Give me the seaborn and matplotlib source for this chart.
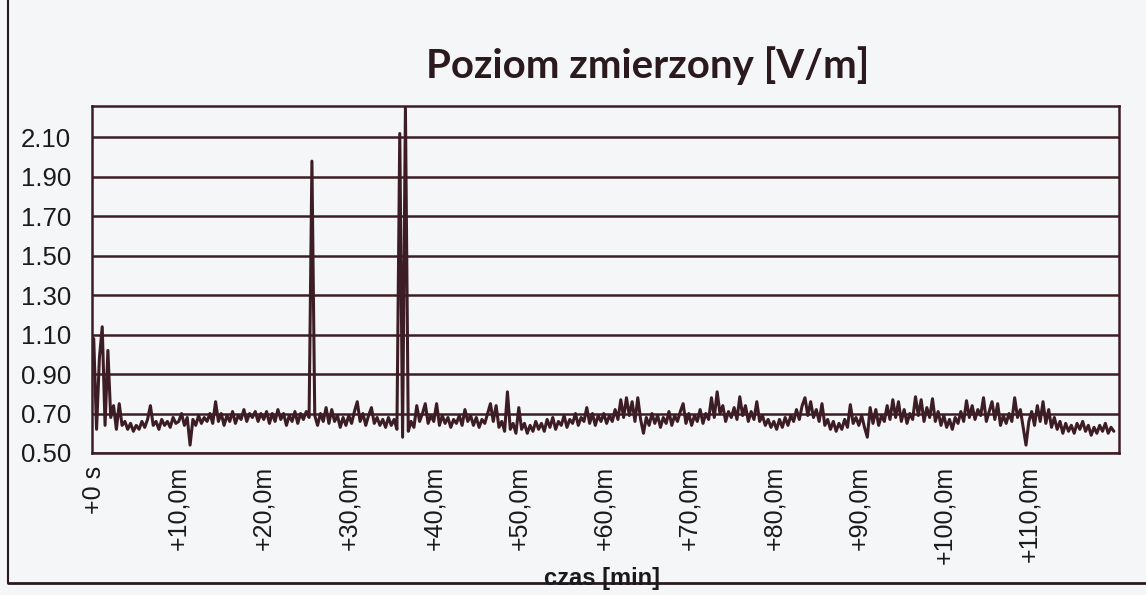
import numpy as np
import pandas as pd
import matplotlib
matplotlib.use('Agg')
import matplotlib.pyplot as plt
import seaborn as sns
from matplotlib.ticker import MultipleLocator
from matplotlib.lines import Line2D

# pomiar co 20 s, wartosci (V/m), po 30 probek na 10 minut
seg_00 = [1.08, 0.62, 0.98, 1.14, 0.64, 1.02, 0.68, 0.74, 0.62, 0.75,
          0.64, 0.66, 0.62, 0.65, 0.61, 0.64, 0.62, 0.66, 0.63, 0.67,
          0.74, 0.64, 0.66, 0.62, 0.67, 0.64, 0.66, 0.63, 0.68, 0.65]
seg_10 = [0.66, 0.70, 0.64, 0.68, 0.54, 0.67, 0.64, 0.69, 0.65, 0.68,
          0.66, 0.70, 0.65, 0.76, 0.66, 0.70, 0.64, 0.69, 0.66, 0.71,
          0.65, 0.69, 0.67, 0.72, 0.66, 0.70, 0.68, 0.71, 0.66, 0.70]
seg_20 = [0.67, 0.71, 0.65, 0.70, 0.66, 0.72, 0.67, 0.70, 0.64, 0.69,
          0.66, 0.71, 0.65, 0.70, 0.67, 0.71, 0.68, 1.98, 0.69, 0.64,
          0.70, 0.66, 0.73, 0.65, 0.72, 0.66, 0.69, 0.63, 0.68, 0.64]
seg_30 = [0.69, 0.65, 0.71, 0.76, 0.66, 0.70, 0.64, 0.69, 0.73, 0.65,
          0.68, 0.64, 0.67, 0.63, 0.68, 0.64, 0.67, 0.62, 2.12, 0.58,
          2.25, 0.61, 0.66, 0.63, 0.74, 0.66, 0.70, 0.75, 0.65, 0.69]
seg_40 = [0.66, 0.75, 0.64, 0.69, 0.65, 0.68, 0.63, 0.67, 0.65, 0.69,
          0.64, 0.72, 0.66, 0.69, 0.64, 0.68, 0.63, 0.67, 0.65, 0.70,
          0.75, 0.66, 0.74, 0.63, 0.66, 0.61, 0.81, 0.62, 0.65, 0.60]
seg_50 = [0.73, 0.62, 0.65, 0.60, 0.64, 0.61, 0.66, 0.62, 0.65, 0.61,
          0.67, 0.63, 0.68, 0.62, 0.66, 0.64, 0.69, 0.63, 0.67, 0.65,
          0.70, 0.64, 0.68, 0.66, 0.73, 0.65, 0.70, 0.64, 0.69, 0.66]
seg_60 = [0.70, 0.65, 0.69, 0.66, 0.72, 0.67, 0.77, 0.68, 0.78, 0.69,
          0.76, 0.66, 0.78, 0.67, 0.60, 0.68, 0.64, 0.70, 0.65, 0.69,
          0.63, 0.68, 0.65, 0.71, 0.64, 0.69, 0.66, 0.71, 0.75, 0.65]
seg_70 = [0.70, 0.64, 0.69, 0.66, 0.72, 0.65, 0.70, 0.67, 0.78, 0.68,
          0.81, 0.70, 0.74, 0.66, 0.71, 0.68, 0.73, 0.67, 0.785, 0.69,
          0.74, 0.66, 0.71, 0.67, 0.76, 0.66, 0.69, 0.64, 0.67, 0.63]
seg_80 = [0.66, 0.62, 0.67, 0.63, 0.68, 0.64, 0.69, 0.66, 0.72, 0.67,
          0.74, 0.78, 0.69, 0.76, 0.68, 0.72, 0.66, 0.75, 0.64, 0.67,
          0.62, 0.66, 0.61, 0.65, 0.62, 0.67, 0.63, 0.745, 0.65, 0.68]
seg_90 = [0.64, 0.69, 0.63, 0.58, 0.73, 0.65, 0.72, 0.64, 0.69, 0.66,
          0.74, 0.67, 0.77, 0.68, 0.76, 0.66, 0.72, 0.65, 0.70, 0.67,
          0.785, 0.69, 0.77, 0.66, 0.73, 0.68, 0.775, 0.66, 0.71, 0.64]
seg_100 = [0.69, 0.63, 0.67, 0.62, 0.68, 0.65, 0.71, 0.66, 0.765, 0.68,
           0.74, 0.67, 0.72, 0.69, 0.78, 0.66, 0.71, 0.76, 0.67, 0.75,
           0.64, 0.69, 0.65, 0.70, 0.66, 0.78, 0.68, 0.72, 0.63, 0.54]
seg_110 = [0.66, 0.71, 0.64, 0.74, 0.66, 0.76, 0.65, 0.72, 0.63, 0.68,
           0.62, 0.66, 0.60, 0.65, 0.61, 0.64, 0.60, 0.65, 0.62, 0.66,
           0.61, 0.64, 0.59, 0.63, 0.60, 0.64, 0.61, 0.65, 0.60, 0.63, 0.61]

poziom = (seg_00 + seg_10 + seg_20 + seg_30 + seg_40 + seg_50 +
          seg_60 + seg_70 + seg_80 + seg_90 + seg_100 + seg_110)
czas = np.arange(len(poziom)) * 20 / 60  # minuty

y_ticks = [0.50, 0.70, 0.90, 1.10, 1.30, 1.50, 1.70, 1.90, 2.10]
x_ticks = [0, 10, 20, 30, 40, 50, 60, 70, 80, 90, 100, 110]
x_labels = ['+0 s', '+10,0m', '+20,0m', '+30,0m', '+40,0m', '+50,0m',
            '+60,0m', '+70,0m', '+80,0m', '+90,0m', '+100,0m', '+110,0m']

df = pd.DataFrame({'czas': czas, 'poziom': poziom})

kolor = '#3d1d25'
tlo = '#f5f6f8'

sns.set_style('white')
plt.rcParams['font.family'] = ['Liberation Sans', 'DejaVu Sans']

fig = plt.figure(figsize=(11.46, 5.95), dpi=100, facecolor=tlo)
ax = fig.add_axes([0.0803, 0.2387, 0.8961, 0.5833])
ax.set_facecolor(tlo)

sns.lineplot(data=df, x='czas', y='poziom', ax=ax, color=kolor, linewidth=2.2)

ax.set_xlim(-0.2, 120.6)
ax.set_ylim(0.50, 2.26)
ax.set_yticks(y_ticks)
ax.set_yticklabels([f'{v:.2f}' for v in y_ticks], fontsize=18.5)
ax.set_xticks(x_ticks)
ax.set_xticklabels(x_labels, rotation=90, fontsize=18)
ax.xaxis.set_minor_locator(MultipleLocator(1))
ax.grid(axis='y', color=kolor, linewidth=1.8)
ax.set_axisbelow(True)

ax.tick_params(axis='y', length=10, width=1.8, color=kolor, pad=5, labelcolor='#1a1a1a')
ax.tick_params(axis='x', which='both', direction='out', length=6, width=1.3,
               color=kolor, pad=3, labelcolor='#1a1a1a')
for s in ax.spines.values():
    s.set_color(kolor)
    s.set_linewidth(1.8)
    s.set_visible(True)

ax.set_xlabel('')
ax.set_ylabel('')

fig.text(0.565, 0.89, 'Poziom zmierzony [V/m]', ha='center', va='center',
         fontsize=29, fontweight='bold', family=['Lato', 'DejaVu Sans'], color='#2a1a1e')
fig.text(0.525, 0.027, 'czas [min]', ha='center', va='center',
         fontsize=17, fontweight='bold', color='#1a1a1a')

# ramka obszaru wykresu (lewa i dolna krawedz)
fig.add_artist(Line2D([0.007, 0.007], [0.02, 1.0], color='#2a1a1e', linewidth=1.5))
fig.add_artist(Line2D([0.007, 1.0], [0.02, 0.02], color='#2a1a1e', linewidth=2))

fig.savefig('out.png', dpi=100, facecolor=tlo)
